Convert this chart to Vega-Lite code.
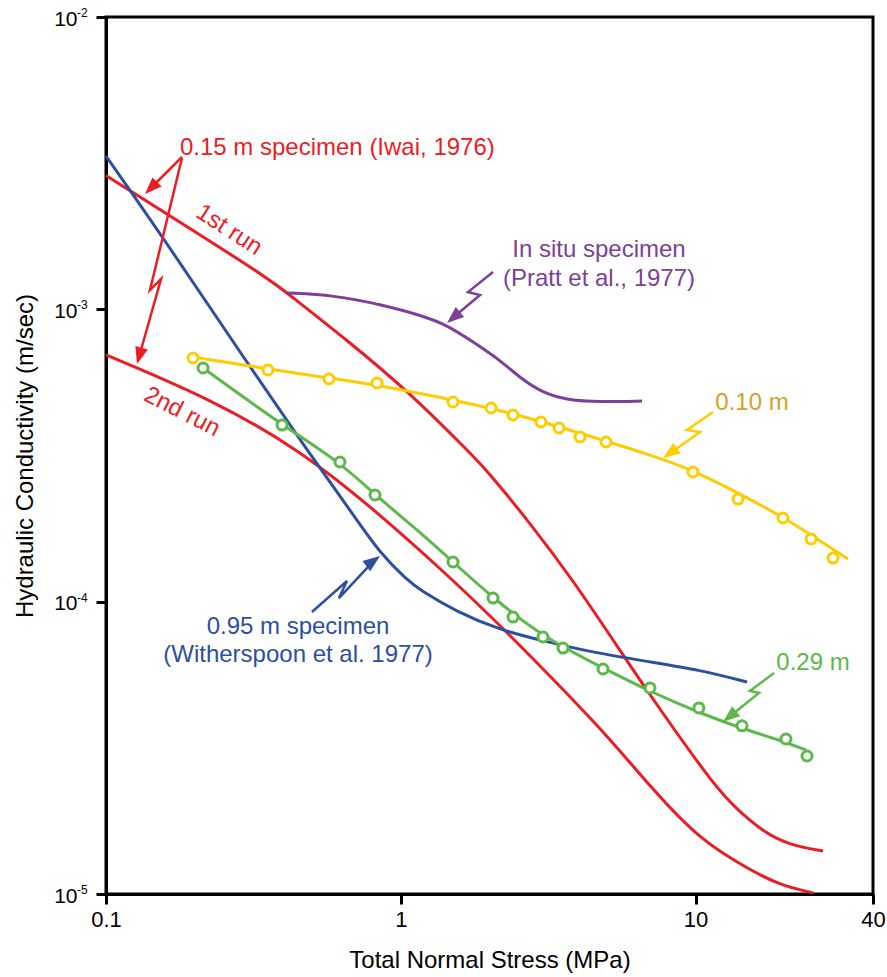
{
  "$schema": "https://vega.github.io/schema/vega-lite/v6.json",
  "width": 767,
  "height": 877,
  "autosize": {"type": "none"},
  "padding": {"left": 106, "top": 17, "right": 14, "bottom": 83},
  "background": "white",
  "config": {
    "view": {"stroke": "black", "strokeWidth": 3},
    "font": "Liberation Sans",
    "axis": {
      "grid": false, "domainColor": "black", "domainWidth": 3, "tickColor": "black", "tickWidth": 3, "tickSize": 10,
      "labelColor": "black", "titleColor": "black", "labelFont": "Liberation Sans", "titleFont": "Liberation Sans",
      "titleFontWeight": "normal", "labelFontSize": 22, "titleFontSize": 24, "labelOverlap": false, "labelFlush": false
    }
  },
  "datasets": {
    "curves": [
      {"s": "1st run", "x": 0.1, "y": 0.00287},
      {"s": "1st run", "x": 0.3517, "y": 0.00129},
      {"s": "1st run", "x": 0.4111, "y": 0.001137},
      {"s": "1st run", "x": 0.657, "y": 0.0007855},
      {"s": "1st run", "x": 1.075, "y": 0.0005173},
      {"s": "1st run", "x": 1.678, "y": 0.0003302},
      {"s": "1st run", "x": 1.931, "y": 0.0002866},
      {"s": "1st run", "x": 2.744, "y": 0.0001858},
      {"s": "1st run", "x": 3.84, "y": 0.0001186},
      {"s": "1st run", "x": 5.765, "y": 0.0000642},
      {"s": "1st run", "x": 7.008, "y": 0.0000479},
      {"s": "1st run", "x": 11.83, "y": 0.00002268},
      {"s": "1st run", "x": 14.16, "y": 0.00001909},
      {"s": "1st run", "x": 17.21, "y": 0.00001616},
      {"s": "1st run", "x": 20.92, "y": 0.0000147},
      {"s": "1st run", "x": 27.07, "y": 0.00001403},
      {"s": "2nd run", "x": 0.1, "y": 0.000698},
      {"s": "2nd run", "x": 0.2307, "y": 0.0004895},
      {"s": "2nd run", "x": 0.455, "y": 0.0003302},
      {"s": "2nd run", "x": 0.8177, "y": 0.0002059},
      {"s": "2nd run", "x": 1.504, "y": 0.0001186},
      {"s": "2nd run", "x": 2.293, "y": 0.0000787},
      {"s": "2nd run", "x": 4.742, "y": 0.0000373},
      {"s": "2nd run", "x": 7.174, "y": 0.00002268},
      {"s": "2nd run", "x": 10.35, "y": 0.0000153},
      {"s": "2nd run", "x": 15.3, "y": 0.00001208},
      {"s": "2nd run", "x": 19.34, "y": 0.00001073},
      {"s": "2nd run", "x": 25.03, "y": 0.00001008},
      {"s": "0.95 m", "x": 0.1, "y": 0.003346},
      {"s": "0.95 m", "x": 0.1525, "y": 0.001824},
      {"s": "0.95 m", "x": 0.308, "y": 0.0006349},
      {"s": "0.95 m", "x": 0.4807, "y": 0.0003302},
      {"s": "0.95 m", "x": 0.7102, "y": 0.0001903},
      {"s": "0.95 m", "x": 0.8503, "y": 0.0001467},
      {"s": "0.95 m", "x": 1.05, "y": 0.0001186},
      {"s": "0.95 m", "x": 1.162, "y": 0.0001096},
      {"s": "0.95 m", "x": 1.551, "y": 0.0000922},
      {"s": "0.95 m", "x": 2.171, "y": 0.00008},
      {"s": "0.95 m", "x": 2.967, "y": 0.0000739},
      {"s": "0.95 m", "x": 4.385, "y": 0.0000673},
      {"s": "0.95 m", "x": 7.008, "y": 0.0000622},
      {"s": "0.95 m", "x": 10.35, "y": 0.0000584},
      {"s": "0.95 m", "x": 14.95, "y": 0.0000531},
      {"s": "in situ", "x": 0.4111, "y": 0.001137},
      {"s": "in situ", "x": 0.589, "y": 0.001119},
      {"s": "in situ", "x": 0.8702, "y": 0.001035},
      {"s": "in situ", "x": 1.162, "y": 0.000956},
      {"s": "in situ", "x": 1.435, "y": 0.000884},
      {"s": "in situ", "x": 1.718, "y": 0.0007855},
      {"s": "in situ", "x": 2.171, "y": 0.0006709},
      {"s": "in situ", "x": 2.539, "y": 0.0005823},
      {"s": "in situ", "x": 3.037, "y": 0.0005173},
      {"s": "in situ", "x": 3.664, "y": 0.0004895},
      {"s": "in situ", "x": 4.742, "y": 0.0004819},
      {"s": "in situ", "x": 6.583, "y": 0.0004857},
      {"s": "0.29 m", "x": 0.2134, "y": 0.0006299},
      {"s": "0.29 m", "x": 0.3955, "y": 0.0004019},
      {"s": "0.29 m", "x": 0.6219, "y": 0.0003004},
      {"s": "0.29 m", "x": 0.8177, "y": 0.0002317},
      {"s": "0.29 m", "x": 1.162, "y": 0.0001731},
      {"s": "0.29 m", "x": 1.504, "y": 0.0001367},
      {"s": "0.29 m", "x": 2.056, "y": 0.0001029},
      {"s": "0.29 m", "x": 3.037, "y": 0.0000757},
      {"s": "0.29 m", "x": 4.855, "y": 0.0000593},
      {"s": "0.29 m", "x": 7.063, "y": 0.0000491},
      {"s": "0.29 m", "x": 10.35, "y": 0.0000416},
      {"s": "0.29 m", "x": 14.16, "y": 0.000037},
      {"s": "0.29 m", "x": 19.34, "y": 0.0000336},
      {"s": "0.29 m", "x": 23.7, "y": 0.0000311},
      {"s": "0.10 m", "x": 0.1973, "y": 0.0006869},
      {"s": "0.10 m", "x": 0.3544, "y": 0.000625},
      {"s": "0.10 m", "x": 0.5708, "y": 0.0005823},
      {"s": "0.10 m", "x": 0.8307, "y": 0.000551},
      {"s": "0.10 m", "x": 1.504, "y": 0.0004895},
      {"s": "0.10 m", "x": 2.171, "y": 0.0004525},
      {"s": "0.10 m", "x": 3.469, "y": 0.0003958},
      {"s": "0.10 m", "x": 4.969, "y": 0.0003544},
      {"s": "0.10 m", "x": 7.008, "y": 0.0003175},
      {"s": "0.10 m", "x": 9.8, "y": 0.0002821},
      {"s": "0.10 m", "x": 13.94, "y": 0.0002353},
      {"s": "0.10 m", "x": 19.8, "y": 0.0001948},
      {"s": "0.10 m", "x": 24.65, "y": 0.000169},
      {"s": "0.10 m", "x": 32.9, "y": 0.0001399}
    ],
    "markers": [
      {"s": "0.10 m", "x": 0.1973, "y": 0.0006815},
      {"s": "0.10 m", "x": 0.3544, "y": 0.0006201},
      {"s": "0.10 m", "x": 0.5708, "y": 0.0005777},
      {"s": "0.10 m", "x": 0.8307, "y": 0.0005598},
      {"s": "0.10 m", "x": 1.504, "y": 0.0004819},
      {"s": "0.10 m", "x": 2.024, "y": 0.0004598},
      {"s": "0.10 m", "x": 2.403, "y": 0.000435},
      {"s": "0.10 m", "x": 2.99, "y": 0.0004117},
      {"s": "0.10 m", "x": 3.442, "y": 0.0003927},
      {"s": "0.10 m", "x": 4.055, "y": 0.0003658},
      {"s": "0.10 m", "x": 4.969, "y": 0.0003517},
      {"s": "0.10 m", "x": 9.8, "y": 0.0002777},
      {"s": "0.10 m", "x": 13.94, "y": 0.0002244},
      {"s": "0.10 m", "x": 19.8, "y": 0.0001933},
      {"s": "0.10 m", "x": 24.65, "y": 0.0001639},
      {"s": "0.10 m", "x": 29.27, "y": 0.000141},
      {"s": "0.29 m", "x": 0.2134, "y": 0.0006299},
      {"s": "0.29 m", "x": 0.3955, "y": 0.0004019},
      {"s": "0.29 m", "x": 0.6219, "y": 0.0003004},
      {"s": "0.29 m", "x": 0.8177, "y": 0.0002317},
      {"s": "0.29 m", "x": 1.504, "y": 0.0001367},
      {"s": "0.29 m", "x": 2.056, "y": 0.0001029},
      {"s": "0.29 m", "x": 2.403, "y": 0.0000886},
      {"s": "0.29 m", "x": 3.037, "y": 0.0000757},
      {"s": "0.29 m", "x": 3.551, "y": 0.0000694},
      {"s": "0.29 m", "x": 4.855, "y": 0.00005885},
      {"s": "0.29 m", "x": 7.008, "y": 0.0000507},
      {"s": "0.29 m", "x": 10.27, "y": 0.0000433},
      {"s": "0.29 m", "x": 14.38, "y": 0.0000376},
      {"s": "0.29 m", "x": 20.27, "y": 0.0000339},
      {"s": "0.29 m", "x": 23.89, "y": 0.00002965}
    ],
    "arrows": [
      {"id": "red1", "s": "1st run", "i": 0, "x": 0.181, "y": 0.00332},
      {"id": "red1", "s": "1st run", "i": 1, "x": 0.141, "y": 0.00258},
      {"id": "red2", "s": "2nd run", "i": 0, "x": 0.181, "y": 0.003294},
      {"id": "red2", "s": "2nd run", "i": 1, "x": 0.141, "y": 0.001164},
      {"id": "red2", "s": "2nd run", "i": 2, "x": 0.1537, "y": 0.001269},
      {"id": "red2", "s": "2nd run", "i": 3, "x": 0.1294, "y": 0.0006869},
      {"id": "purple", "s": "in situ", "i": 0, "x": 2.056, "y": 0.001342},
      {"id": "purple", "s": "in situ", "i": 1, "x": 1.691, "y": 0.001146},
      {"id": "purple", "s": "in situ", "i": 2, "x": 1.857, "y": 0.001119},
      {"id": "purple", "s": "in situ", "i": 3, "x": 1.492, "y": 0.00093},
      {"id": "yellow", "s": "0.10 m", "i": 0, "x": 11.46, "y": 0.0004455},
      {"id": "yellow", "s": "0.10 m", "i": 1, "x": 9.355, "y": 0.0003866},
      {"id": "yellow", "s": "0.10 m", "i": 2, "x": 10.35, "y": 0.0003806},
      {"id": "yellow", "s": "0.10 m", "i": 3, "x": 8.128, "y": 0.0003199},
      {"id": "green", "s": "0.29 m", "i": 0, "x": 18.46, "y": 0.000057},
      {"id": "green", "s": "0.29 m", "i": 1, "x": 15.3, "y": 0.0000495},
      {"id": "green", "s": "0.29 m", "i": 2, "x": 16.42, "y": 0.0000487},
      {"id": "green", "s": "0.29 m", "i": 3, "x": 12.93, "y": 0.00004013},
      {"id": "blue", "s": "0.95 m", "i": 0, "x": 0.4996, "y": 0.0000922},
      {"id": "blue", "s": "0.95 m", "i": 1, "x": 0.657, "y": 0.0001177},
      {"id": "blue", "s": "0.95 m", "i": 2, "x": 0.6171, "y": 0.0001029},
      {"id": "blue", "s": "0.95 m", "i": 3, "x": 0.8137, "y": 0.0001386}
    ],
    "heads": [
      {"id": "red1", "x": 0.1356, "y": 0.00248},
      {"id": "red2", "x": 0.1274, "y": 0.00065},
      {"id": "purple", "x": 1.435, "y": 0.000898},
      {"id": "yellow", "x": 7.756, "y": 0.00031},
      {"id": "green", "x": 12.39, "y": 0.0000388},
      {"id": "blue", "x": 0.8503, "y": 0.0001433}
    ],
    "exps": [
      {"x": 0.1, "y": 0.01, "e": "-2"},
      {"x": 0.1, "y": 0.001, "e": "-3"},
      {"x": 0.1, "y": 0.0001, "e": "-4"},
      {"x": 0.1, "y": 0.00001, "e": "-5"}
    ],
    "labels": [
      {"id": "iwai", "s": "1st run", "t": "0.15 m specimen (Iwai, 1976)", "x": 0.1782, "y": 0.003563},
      {"id": "c", "s": "in situ", "t": "In situ specimen", "x": 4.704, "y": 0.001595},
      {"id": "c", "s": "in situ", "t": "(Pratt et al., 1977)", "x": 4.704, "y": 0.001269},
      {"id": "c", "s": "0.29 m", "t": "0.29 m", "x": 25.03, "y": 0.0000617},
      {"id": "c", "s": "0.95 m", "t": "0.95 m specimen", "x": 0.4481, "y": 0.0000819},
      {"id": "c", "s": "0.95 m", "t": "(Witherspoon et al. 1977)", "x": 0.4481, "y": 0.0000657},
      {"id": "gold", "s": "0.10 m", "t": "0.10 m", "x": 15.54, "y": 0.000478},
      {"id": "run1", "s": "1st run", "t": "1st run", "x": 0.2614, "y": 0.001868},
      {"id": "run2", "s": "2nd run", "t": "2nd run", "x": 0.181, "y": 0.0004455}
    ]
  },
  "encoding": {
    "x": {
      "field": "x", "type": "quantitative",
      "scale": {"type": "log", "domain": [0.1, 40], "nice": false},
      "axis": {"values": [0.1, 1, 10, 40], "format": "~g", "title": "Total Normal Stress (MPa)", "labelPadding": 5, "titlePadding": 18}
    },
    "y": {
      "field": "y", "type": "quantitative",
      "scale": {"type": "log", "domain": [0.00001, 0.01], "nice": false},
      "axis": {
        "values": [0.00001, 0.0001, 0.001, 0.01],
        "labelExpr": "'10'", "labelFontSize": 21, "labelOffset": 2,
        "title": "Hydraulic Conductivity (m/sec)", "labelPadding": 19, "titlePadding": 16
      }
    }
  },
  "layer": [
    {
      "data": {"name": "curves"},
      "mark": {"type": "line", "strokeWidth": 3, "interpolate": "basis"},
      "encoding": {
        "color": {"field": "s", "type": "nominal", "legend": null,
          "scale": {"domain": ["1st run", "2nd run", "0.95 m", "in situ", "0.10 m", "0.29 m"], "range": ["#ED1C24", "#ED1C24", "#2D4FA0", "#7E3F98", "#FFCC00", "#5DB84A"]}}
      }
    },
    {
      "data": {"name": "markers"},
      "mark": {"type": "point", "shape": "circle", "filled": true, "fill": "white", "fillOpacity": 1, "opacity": 1, "strokeWidth": 3, "size": 100},
      "encoding": {
        "stroke": {"field": "s", "type": "nominal", "legend": null,
          "scale": {"domain": ["1st run", "2nd run", "0.95 m", "in situ", "0.10 m", "0.29 m"], "range": ["#ED1C24", "#ED1C24", "#2D4FA0", "#7E3F98", "#FFCC00", "#5DB84A"]}}
      }
    },
    {
      "data": {"name": "arrows"},
      "mark": {"type": "line", "strokeWidth": 2.5},
      "encoding": {
        "detail": {"field": "id"},
        "order": {"field": "i", "type": "quantitative"},
        "color": {"field": "s", "type": "nominal", "legend": null,
          "scale": {"domain": ["1st run", "2nd run", "0.95 m", "in situ", "0.10 m", "0.29 m"], "range": ["#ED1C24", "#ED1C24", "#2D4FA0", "#7E3F98", "#FFCC00", "#5DB84A"]}}
      }
    },
    {"data": {"name": "heads"}, "transform": [{"filter": "datum.id == 'red1'"}],
     "mark": {"type": "point", "shape": "M0,0L0.76,2L-0.76,2Z", "size": 289, "filled": true, "opacity": 1, "color": "#ED1C24", "angle": 225}},
    {"data": {"name": "heads"}, "transform": [{"filter": "datum.id == 'red2'"}],
     "mark": {"type": "point", "shape": "M0,0L0.76,2L-0.76,2Z", "size": 289, "filled": true, "opacity": 1, "color": "#ED1C24", "angle": 195.8}},
    {"data": {"name": "heads"}, "transform": [{"filter": "datum.id == 'purple'"}],
     "mark": {"type": "point", "shape": "M0,0L0.76,2L-0.76,2Z", "size": 289, "filled": true, "opacity": 1, "color": "#7E3F98", "angle": 229.6}},
    {"data": {"name": "heads"}, "transform": [{"filter": "datum.id == 'yellow'"}],
     "mark": {"type": "point", "shape": "M0,0L0.76,2L-0.76,2Z", "size": 289, "filled": true, "opacity": 1, "color": "#FFCC00", "angle": 234.9}},
    {"data": {"name": "heads"}, "transform": [{"filter": "datum.id == 'green'"}],
     "mark": {"type": "point", "shape": "M0,0L0.76,2L-0.76,2Z", "size": 289, "filled": true, "opacity": 1, "color": "#5DB84A", "angle": 231.1}},
    {"data": {"name": "heads"}, "transform": [{"filter": "datum.id == 'blue'"}],
     "mark": {"type": "point", "shape": "M0,0L0.76,2L-0.76,2Z", "size": 289, "filled": true, "opacity": 1, "color": "#2D4FA0", "angle": 53.4}},
    {
      "data": {"name": "exps"},
      "mark": {"type": "text", "align": "left", "baseline": "middle", "fontSize": 12, "font": "Liberation Sans", "color": "black", "dx": -29, "dy": -4, "clip": false},
      "encoding": {"text": {"field": "e"}}
    },
    {
      "data": {"name": "labels"}, "transform": [{"filter": "datum.id == 'iwai'"}],
      "mark": {"type": "text", "align": "left", "baseline": "middle", "fontSize": 24, "font": "Liberation Sans", "color": "#ED1C24"},
      "encoding": {"text": {"field": "t"}}
    },
    {
      "data": {"name": "labels"}, "transform": [{"filter": "datum.id == 'c'"}],
      "mark": {"type": "text", "align": "center", "baseline": "middle", "fontSize": 24, "font": "Liberation Sans"},
      "encoding": {
        "text": {"field": "t"},
        "color": {"field": "s", "type": "nominal", "legend": null,
          "scale": {"domain": ["1st run", "2nd run", "0.95 m", "in situ", "0.10 m", "0.29 m"], "range": ["#ED1C24", "#ED1C24", "#2D4FA0", "#7E3F98", "#FFCC00", "#5DB84A"]}}
      }
    },
    {
      "data": {"name": "labels"}, "transform": [{"filter": "datum.id == 'gold'"}],
      "mark": {"type": "text", "align": "center", "baseline": "middle", "fontSize": 24, "font": "Liberation Sans", "color": "#D4A228"},
      "encoding": {"text": {"field": "t"}}
    },
    {
      "data": {"name": "labels"}, "transform": [{"filter": "datum.id == 'run1'"}],
      "mark": {"type": "text", "align": "center", "baseline": "middle", "fontSize": 24, "font": "Liberation Sans", "color": "#ED1C24", "angle": 33},
      "encoding": {"text": {"field": "t"}}
    },
    {
      "data": {"name": "labels"}, "transform": [{"filter": "datum.id == 'run2'"}],
      "mark": {"type": "text", "align": "center", "baseline": "middle", "fontSize": 24, "font": "Liberation Sans", "color": "#ED1C24", "angle": 27},
      "encoding": {"text": {"field": "t"}}
    }
  ]
}
